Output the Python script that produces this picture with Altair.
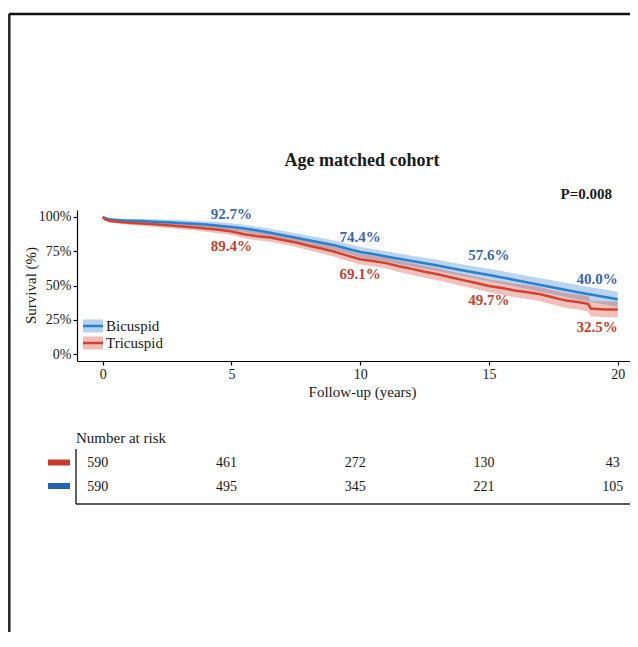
import altair as alt
import pandas as pd

# ---------------- data ----------------
SERIES = ["Bicuspid", "Tricuspid"]

bicuspid_times = [0, 0.1, 0.3, 0.6, 1, 1.5, 2, 2.5, 3, 3.5, 4, 4.5, 5, 5.5, 6, 6.5,
                  7, 7.5, 8, 8.5, 9, 9.5, 10, 10.5, 11, 11.5, 12, 12.5, 13, 13.5, 14,
                  14.5, 15, 15.5, 16, 16.5, 17, 17.5, 18, 18.5, 19, 19.5, 20]
bicuspid_surv = [100, 99.0, 98.0, 97.6, 97.2, 96.9, 96.5, 96.1, 95.6, 95.0, 94.4,
                 93.6, 92.7, 91.6, 90.0, 88.4, 86.6, 84.8, 83.0, 81.2, 79.3, 76.8,
                 74.4, 72.9, 71.2, 69.5, 67.8, 66.2, 64.6, 62.8, 61.0, 59.3, 57.6,
                 55.9, 54.0, 52.2, 50.3, 48.6, 46.7, 44.9, 43.2, 41.6, 40.0]
bicuspid_ci = [0, 0.7, 1.0, 1.2, 1.4, 1.6, 1.8, 1.9, 2.1, 2.2, 2.3, 2.5, 2.6, 2.7,
               2.8, 3.0, 3.1, 3.2, 3.3, 3.4, 3.5, 3.5, 3.6, 3.7, 3.8, 3.9, 3.9, 4.0,
               4.1, 4.2, 4.3, 4.4, 4.5, 4.6, 4.7, 4.8, 4.9, 5.0, 5.1, 5.2, 5.3, 5.4, 5.5]

tricuspid_times = [0, 0.1, 0.3, 0.6, 1, 1.5, 2, 2.5, 3, 3.5, 4, 4.5, 5, 5.5, 6, 6.5,
                   7, 7.5, 8, 8.5, 9, 9.5, 10, 10.5, 11, 11.5, 12, 12.5, 13, 13.5, 14,
                   14.5, 15, 15.5, 16, 16.5, 17, 17.5, 18, 18.5, 18.85, 18.95, 19.5, 20]
tricuspid_surv = [100, 98.2, 97.0, 96.4, 95.8, 95.2, 94.6, 93.9, 93.2, 92.5, 91.6,
                  90.6, 89.4, 87.3, 85.9, 85.0, 83.2, 81.3, 79.0, 76.9, 74.6, 71.8,
                  69.1, 67.9, 66.3, 64.0, 62.1, 60.0, 58.2, 56.0, 53.9, 51.8, 49.7,
                  48.2, 46.4, 45.1, 43.6, 41.2, 39.0, 37.8, 36.6, 33.2, 32.6, 32.5]
tricuspid_ci = [0, 0.9, 1.2, 1.4, 1.6, 1.7, 1.9, 2.0, 2.2, 2.3, 2.5, 2.6, 2.7, 2.9,
                3.0, 3.1, 3.2, 3.3, 3.4, 3.5, 3.6, 3.7, 3.8, 3.9, 4.0, 4.1, 4.2, 4.3,
                4.4, 4.4, 4.5, 4.6, 4.7, 4.8, 4.9, 5.0, 5.1, 5.2, 5.3, 5.4, 5.5, 5.6,
                5.7, 5.8]

label_times = [5, 10, 15, 20]
bicuspid_labels = [92.7, 74.4, 57.6, 40.0]
tricuspid_labels = [89.4, 69.1, 49.7, 32.5]

risk_times = [0, 5, 10, 15, 20]
tricuspid_risk = [590, 461, 272, 130, 43]
bicuspid_risk = [590, 495, 345, 221, 105]

x_ticks = [0, 5, 10, 15, 20]
y_ticks = [0, 25, 50, 75, 100]

title_text = "Age matched cohort"
p_text = "P=0.008"
x_title = "Follow-up (years)"
y_title = "Survival (%)"
risk_title = "Number at risk"

# ---------------- styles ----------------
SERIF = "Liberation Serif"
LINE_COLORS = ["#2b7fcf", "#d2432f"]
TEXT_BLUE = "#3a64b6"
TEXT_RED = "#c8402f"
SWATCH_BLUE = "#2462b5"
SWATCH_RED = "#c93a2c"
INK = "#1a1a1a"

km_df = pd.concat([
    pd.DataFrame({"series": "Bicuspid", "t": bicuspid_times, "s": bicuspid_surv,
                  "hw": bicuspid_ci}),
    pd.DataFrame({"series": "Tricuspid", "t": tricuspid_times, "s": tricuspid_surv,
                  "hw": tricuspid_ci}),
], ignore_index=True)

lab_df = pd.concat([
    pd.DataFrame({"series": "Bicuspid", "t": label_times, "v": bicuspid_labels}),
    pd.DataFrame({"series": "Tricuspid", "t": label_times, "v": tricuspid_labels}),
], ignore_index=True)

risk_df = pd.concat([
    pd.DataFrame({"series": "Tricuspid", "t": risk_times, "n": tricuspid_risk}),
    pd.DataFrame({"series": "Bicuspid", "t": risk_times, "n": bicuspid_risk}),
], ignore_index=True)

leg_df = pd.DataFrame({"series": SERIES})
txt_df = pd.DataFrame({"key": ["title", "p", "risk"], "label": [title_text, p_text, risk_title]})
one = pd.DataFrame({"k": [0]})

W, H = 553, 151

xscale = alt.Scale(domain=[-1, 20.476], nice=False, zero=False)
yscale = alt.Scale(domain=[-5, 105], nice=False, zero=False)

xaxis = alt.Axis(values=x_ticks, title=x_title, grid=False, domainColor="black",
                 domainWidth=1.2, tickColor="black", tickWidth=1.2, tickSize=4,
                 labelFont=SERIF, labelFontSize=14, labelColor=INK, labelPadding=2,
                 titleFont=SERIF, titleFontSize=15, titleFontWeight="normal",
                 titleColor=INK, titleX=285, titleY=30, titleBaseline="middle",
                 titleAlign="center")
yaxis = alt.Axis(values=y_ticks, labelExpr="datum.value + '%'", title=y_title,
                 grid=False, domainColor="black", domainWidth=1.2, tickColor="black",
                 tickWidth=1.2, tickSize=4, labelFont=SERIF, labelFontSize=14,
                 labelColor=INK, labelPadding=2, titleFont=SERIF, titleFontSize=15,
                 titleFontWeight="normal", titleColor=INK, titleX=-47, titleY=75,
                 titleBaseline="middle", titleAlign="center")

X = alt.X("t:Q", scale=xscale, axis=xaxis)
color = alt.Color("series:N", scale=alt.Scale(domain=SERIES, range=LINE_COLORS), legend=None)

base = alt.Chart(km_df).transform_calculate(lo="datum.s - datum.hw", hi="datum.s + datum.hw")

band = base.mark_area(interpolate="linear", opacity=0.33).encode(
    x=X, y=alt.Y("lo:Q", scale=yscale, axis=yaxis), y2="hi:Q", color=color)

line = base.mark_line(interpolate="linear", strokeWidth=2.5).encode(
    x=X, y=alt.Y("s:Q", scale=yscale, axis=yaxis), color=color)


def pct_layer(series, tsel, col, dy, align="center", dx=0):
    return (alt.Chart(lab_df)
            .transform_filter(alt.datum.series == series)
            .transform_filter(alt.FieldOneOfPredicate(field="t", oneOf=tsel))
            .transform_calculate(label="format(datum.v, '.1f') + '%'")
            .mark_text(font=SERIF, fontSize=15, fontWeight="bold", color=col,
                       baseline="middle", align=align, dy=dy, dx=dx)
            .encode(x=X, y=alt.Y("v:Q", scale=yscale, axis=yaxis), text="label:N"))


pct_layers = [
    pct_layer("Bicuspid", [5], TEXT_BLUE, -12.5),
    pct_layer("Bicuspid", [10], TEXT_BLUE, -15),
    pct_layer("Bicuspid", [15], TEXT_BLUE, -20),
    pct_layer("Bicuspid", [20], TEXT_BLUE, -20, align="right"),
    pct_layer("Tricuspid", [5, 10, 15], TEXT_RED, 14.5),
    pct_layer("Tricuspid", [20], TEXT_RED, 17.5, align="right"),
]


def legend_entry(name, col, yc):
    d = alt.Chart(leg_df).transform_filter(alt.datum.series == name)
    sw = d.mark_rect(color=col, opacity=0.35).encode(
        x=alt.value(6), x2=alt.value(26), y=alt.value(yc - 6.5), y2=alt.value(yc + 6.5))
    ln = d.mark_rule(color=col, strokeWidth=2.5).encode(
        x=alt.value(6), x2=alt.value(26), y=alt.value(yc))
    tx = d.mark_text(font=SERIF, fontSize=15, color=INK, align="left",
                     baseline="middle").encode(x=alt.value(29), y=alt.value(yc),
                                                text="series:N")
    return [sw, ln, tx]


legend_layers = legend_entry("Bicuspid", LINE_COLORS[0], 116) + \
    legend_entry("Tricuspid", LINE_COLORS[1], 133)


def risk_row(series, yc, sw_col):
    d = alt.Chart(risk_df).transform_filter(alt.datum.series == series)
    tx = d.mark_text(font=SERIF, fontSize=14, color=INK, align="center",
                     baseline="middle", dx=-5).encode(x=X, y=alt.value(yc), text="n:Q")
    sw = alt.Chart(one).mark_rect(color=sw_col).encode(
        x=alt.value(-29), x2=alt.value(-7), y=alt.value(yc - 3.5), y2=alt.value(yc + 2.5))
    return [tx, sw]


risk_layers = risk_row("Tricuspid", 253, SWATCH_RED) + risk_row("Bicuspid", 276.5, SWATCH_BLUE)

tdf = alt.Chart(txt_df)
title_layer = tdf.transform_filter(alt.datum.key == "title").mark_text(
    font=SERIF, fontSize=18, fontWeight="bold", color=INK, align="center",
    baseline="middle").encode(x=alt.value(285), y=alt.value(-49), text="label:N")
p_layer = tdf.transform_filter(alt.datum.key == "p").mark_text(
    font=SERIF, fontSize=15, fontWeight="bold", color=INK, align="right",
    baseline="middle").encode(x=alt.value(535), y=alt.value(-16), text="label:N")
risk_title_layer = tdf.transform_filter(alt.datum.key == "risk").mark_text(
    font=SERIF, fontSize=15, color=INK, align="left",
    baseline="middle").encode(x=alt.value(-1), y=alt.value(228), text="label:N")

r = alt.Chart(one)
frame_top = r.mark_rule(color="#111", strokeWidth=2.5).encode(
    x=alt.value(-68), x2=alt.value(W), y=alt.value(-196))
frame_left = r.mark_rule(color="#222", strokeWidth=2.5).encode(
    x=alt.value(-67.7), y=alt.value(-196), y2=alt.value(H + 271))
table_v = r.mark_rule(color="#222", strokeWidth=1.4).encode(
    x=alt.value(-1), y=alt.value(239), y2=alt.value(294))
table_h = r.mark_rule(color="#222", strokeWidth=1.4).encode(
    x=alt.value(-1), x2=alt.value(W), y=alt.value(294))

chart = alt.layer(
    band, line, *pct_layers, *legend_layers, *risk_layers,
    title_layer, p_layer, risk_title_layer,
    frame_top, frame_left, table_v, table_h,
).properties(
    width=W, height=H,
    padding={"left": 69, "top": 202, "right": 0, "bottom": 271},
    autosize=alt.AutoSizeParams(type="none"),
).configure_view(stroke=None)

chart.save("out.html", embed_options={"renderer": "svg", "actions": False})
